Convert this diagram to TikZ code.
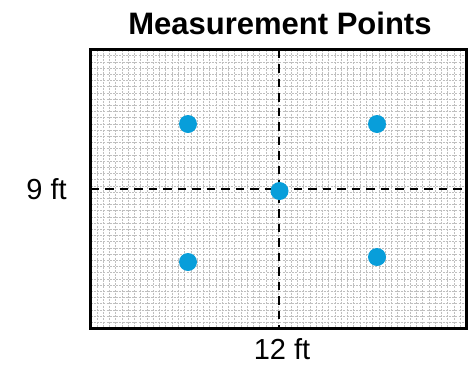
\documentclass[tikz,border=0pt]{standalone}
\usepackage{fontspec}
\setmainfont{Liberation Sans}
\begin{document}
\begin{tikzpicture}[x=1pt,y=-1pt,
  gridline/.style={draw=black!25,line width=0.5pt,dash pattern=on 2pt off 1.2pt},
  centerline/.style={draw=black,line width=2pt,dash pattern=on 8.5pt off 6pt},
  border/.style={draw=black,line width=3pt},
  mpoint/.style={circle,fill=ptblue,inner sep=0pt,minimum size=18pt},
  lbl/.style={font=\fontsize{29}{32}\selectfont,inner sep=0pt,anchor=base},
  ttl/.style={font=\bfseries\fontsize{31}{34}\selectfont,inner sep=0pt,anchor=base}]
\definecolor{ptblue}{RGB}{8,158,218}
\useasboundingbox (0,0) rectangle (469,365);
\fill[white] (0,0) rectangle (469,365);
% grid
\foreach \i in {1,...,59} {
  \draw[gridline] ({90.5+\i*6.26667},49.5) -- ({90.5+\i*6.26667},328.5);
}
\foreach \j in {1,...,44} {
  \draw[gridline] (90.5,{49.5+\j*6.2}) -- (466.5,{49.5+\j*6.2});
}
% center lines
\coordinate (hl) at (90.5,189);
\coordinate (hr) at (466.5,189);
\coordinate (vt) at (279,49.5);
\coordinate (vb) at (279,328.5);
\draw[centerline] (hl) -- (hr);
\draw[centerline] (vt) -- (vb);
% border
\draw[border] (90.5,49.5) rectangle (466.5,328.5);
% points
\node[mpoint] (p1) at (188,124) {};
\node[mpoint] (p2) at (377,124) {};
\node[mpoint] (p3) at (279.5,191) {};
\node[mpoint] (p4) at (188,262) {};
\node[mpoint] (p5) at (377,257) {};
% labels
\node[ttl] (title) at (280,34) {Measurement Points};
\node[lbl] (h) at (46.5,199.5) {9 ft};
\node[lbl] (w) at (282,359) {12 ft};
\end{tikzpicture}
\end{document}
